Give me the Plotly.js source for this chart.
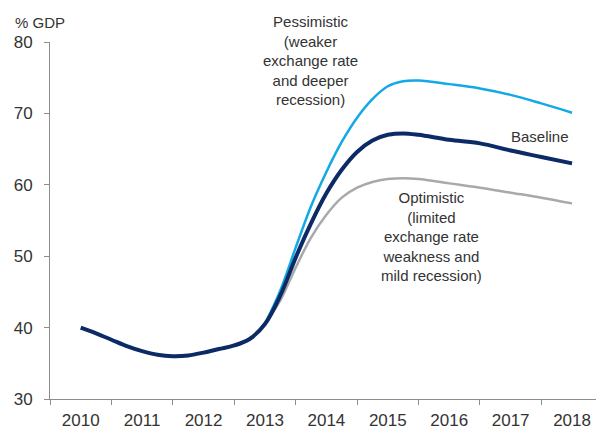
<!DOCTYPE html>
<html>
<head>
<meta charset="utf-8">
<script src="https://cdn.plot.ly/plotly-3.0.1.min.js"></script>
<style>
  html, body { margin: 0; padding: 0; background: #fff; }
  #chart { width: 596px; height: 429px; }
</style>
</head>
<body>
<div id="chart"></div>
<script>
// Public debt, % of GDP, with three scenarios from 2013
const histYears = [2010.00, 2010.25, 2010.50, 2010.75, 2011.00, 2011.25, 2011.50, 2011.75,
                   2012.00, 2012.25, 2012.50, 2012.75];
const histDebt  = [40.0, 39.2, 38.3, 37.4, 36.7, 36.2, 36.0, 36.1,
                   36.5, 37.0, 37.5, 38.4];

const scenYears = [2013.00, 2013.25, 2013.50, 2013.75, 2014.00, 2014.25, 2014.50, 2014.75,
                   2015.00, 2015.25, 2015.50, 2016.00, 2016.50, 2017.00, 2017.50, 2018.00];
const baseline    = [40.5, 44.5, 49.8, 54.6, 58.8, 62.1, 64.6, 66.2,
                     67.0, 67.2, 67.0, 66.3, 65.8, 64.8, 63.9, 63.0];
const pessimistic = [40.5, 45.2, 51.2, 57.0, 61.8, 66.0, 69.4, 72.0,
                     73.8, 74.5, 74.6, 74.1, 73.5, 72.6, 71.4, 70.1];
const optimistic  = [40.5, 43.8, 48.4, 52.6, 55.8, 58.2, 59.6, 60.4,
                     60.8, 60.9, 60.8, 60.2, 59.6, 58.9, 58.2, 57.4];

const yearLabels = ['2010', '2011', '2012', '2013', '2014', '2015', '2016', '2017', '2018'];
const yearTicks = yearLabels.map(Number);
const yearBounds = yearTicks.map(y => y - 0.5);

const NAVY = '#0b2a66';
const LIGHT = '#12a9e6';
const GREY = '#a7a9ac';
const TEXT = '#333333';
const AXIS = '#8c8c8c';

const traces = [
  { x: scenYears, y: optimistic, mode: 'lines', name: 'Optimistic',
    line: { color: GREY, width: 2.5, shape: 'spline', smoothing: 1 } },
  { x: scenYears, y: pessimistic, mode: 'lines', name: 'Pessimistic',
    line: { color: LIGHT, width: 2.5, shape: 'spline', smoothing: 1 } },
  { x: histYears.concat(scenYears), y: histDebt.concat(baseline), mode: 'lines', name: 'Baseline',
    line: { color: NAVY, width: 4, shape: 'spline', smoothing: 1 } }
];

const font = { family: 'Liberation Sans, Arial, sans-serif', color: TEXT };

const layout = {
  width: 596, height: 429,
  margin: { l: 50, r: 0, t: 42, b: 30 },
  paper_bgcolor: '#fff', plot_bgcolor: '#fff',
  showlegend: false,
  font: Object.assign({ size: 17 }, font),
  xaxis: {
    range: [2009.5, 2018.39],
    tickmode: 'array', tickvals: yearTicks, ticktext: yearLabels,
    ticks: '', showgrid: false, zeroline: false,
    showline: true, linecolor: AXIS, linewidth: 1,
    ticklabelstandoff: 6,
    tickfont: Object.assign({ size: 17 }, font),
    minor: { tickmode: 'array', tickvals: yearBounds, ticks: 'outside',
             ticklen: 5, tickcolor: AXIS, tickwidth: 1, showgrid: false }
  },
  yaxis: {
    range: [30, 80], dtick: 10, tick0: 30,
    ticks: 'outside', ticklen: 5, tickcolor: AXIS,
    showgrid: false, zeroline: false,
    showline: true, linecolor: AXIS, linewidth: 1,
    ticklabelstandoff: 8,
    tickfont: Object.assign({ size: 17 }, font)
  },
  annotations: [
    { xref: 'paper', yref: 'paper', x: 0, y: 1, xshift: -37, yshift: 20,
      xanchor: 'left', yanchor: 'middle', showarrow: false, align: 'left',
      text: '% GDP', font: Object.assign({ size: 15 }, font) },
    { xref: 'x', yref: 'y', x: 2013.74, y: 77.4, xanchor: 'center', yanchor: 'middle',
      showarrow: false, align: 'center',
      text: 'Pessimistic<br>(weaker<br>exchange rate<br>and deeper<br>recession)',
      font: Object.assign({ size: 15 }, font) },
    { xref: 'x', yref: 'y', x: 2017.99, y: 66.7, xanchor: 'right', yanchor: 'middle',
      showarrow: false, align: 'right', text: 'Baseline',
      font: Object.assign({ size: 15 }, font) },
    { xref: 'x', yref: 'y', x: 2015.705, y: 52.69, xanchor: 'center', yanchor: 'middle',
      showarrow: false, align: 'center',
      text: 'Optimistic<br>(limited<br>exchange rate<br>weakness and<br>mild recession)',
      font: Object.assign({ size: 15 }, font) }
  ]
};

Plotly.newPlot('chart', traces, layout, { staticPlot: true, displayModeBar: false });
</script>
</body>
</html>
